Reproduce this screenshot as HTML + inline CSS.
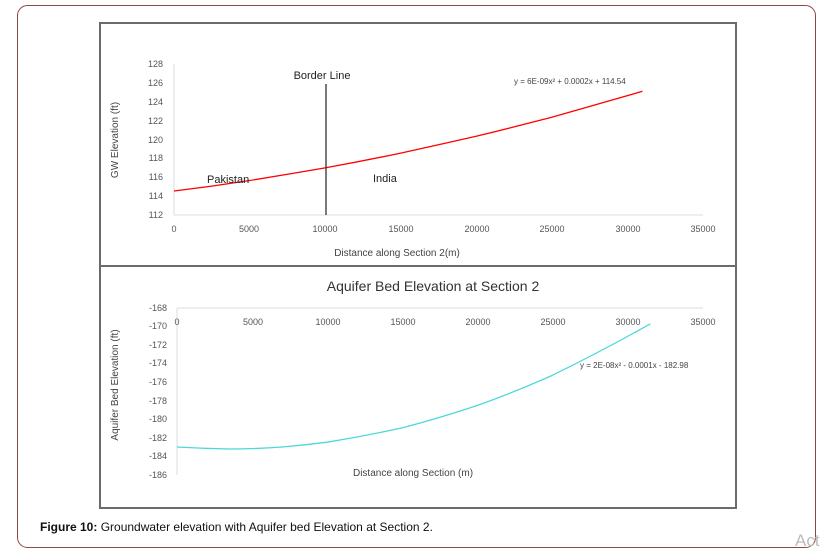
<!DOCTYPE html>
<html><head><meta charset="utf-8"><style>
html,body{margin:0;padding:0;background:#fff;width:825px;height:553px;overflow:hidden}
svg{display:block}
</style></head><body>
<svg width="825" height="553" viewBox="0 0 825 553" xmlns="http://www.w3.org/2000/svg" font-family="Liberation Sans, sans-serif">
<rect x="17.5" y="5.5" width="798" height="542" rx="10" fill="#fff" stroke="#8b4a3f" stroke-width="1"/>
<rect x="100" y="23" width="636" height="485" fill="#fff" stroke="#6b6b6b" stroke-width="2"/>
<line x1="100" y1="266" x2="736" y2="266" stroke="#6b6b6b" stroke-width="2"/>
<!-- top chart -->
<g font-size="9" fill="#555" text-anchor="end">
<text x="163" y="67">128</text><text x="163" y="86">126</text><text x="163" y="105">124</text>
<text x="163" y="124">122</text><text x="163" y="143">120</text><text x="163" y="161">118</text>
<text x="163" y="180">116</text><text x="163" y="199">114</text><text x="163" y="218">112</text>
</g>
<line x1="174" y1="64" x2="174" y2="215" stroke="#ddd"/>
<line x1="174" y1="215" x2="703" y2="215" stroke="#ddd"/>
<g font-size="9" fill="#555" text-anchor="middle">
<text x="174" y="232">0</text><text x="249" y="232">5000</text><text x="325" y="232">10000</text>
<text x="401" y="232">15000</text><text x="477" y="232">20000</text><text x="552" y="232">25000</text>
<text x="628" y="232">30000</text><text x="703" y="232">35000</text>
</g>
<text x="397" y="256" font-size="10" fill="#444" text-anchor="middle">Distance along Section 2(m)</text>
<text transform="translate(118,140) rotate(-90)" font-size="10" fill="#444" text-anchor="middle">GW Elevation (ft)</text>
<path d="M174,191 Q212,186.5 249.6,180.5 Q287,174.5 325.1,167.9 Q363,161 400.7,153.1 Q438,145 476.2,136.3 Q514,127 551.8,117.3 Q597,104.5 642.4,91.3" fill="none" stroke="#f00" stroke-width="1.3"/>
<line x1="326" y1="84" x2="326" y2="215" stroke="#333" stroke-width="1.3"/>
<text x="322" y="79" font-size="11" fill="#222" text-anchor="middle">Border Line</text>
<text x="207" y="183" font-size="11" fill="#222">Pakistan</text>
<text x="373" y="182" font-size="11" fill="#222">India</text>
<text x="514" y="84" font-size="8" fill="#444">y = 6E-09x² + 0.0002x + 114.54</text>
<!-- bottom chart -->
<text x="433" y="291" font-size="14" fill="#333" text-anchor="middle">Aquifer Bed Elevation at  Section 2</text>
<g font-size="9" fill="#555" text-anchor="end">
<text x="167" y="311">-168</text><text x="167" y="329">-170</text><text x="167" y="348">-172</text>
<text x="167" y="366">-174</text><text x="167" y="385">-176</text><text x="167" y="404">-178</text>
<text x="167" y="422">-180</text><text x="167" y="441">-182</text><text x="167" y="459">-184</text>
<text x="167" y="478">-186</text>
</g>
<line x1="177" y1="308" x2="703" y2="308" stroke="#ddd"/>
<line x1="177" y1="308" x2="177" y2="475" stroke="#ddd"/>
<g font-size="9" fill="#555" text-anchor="middle">
<text x="177" y="325">0</text><text x="253" y="325">5000</text><text x="328" y="325">10000</text>
<text x="403" y="325">15000</text><text x="478" y="325">20000</text><text x="553" y="325">25000</text>
<text x="628" y="325">30000</text><text x="703" y="325">35000</text>
</g>
<text x="413" y="476" font-size="10" fill="#444" text-anchor="middle">Distance along Section (m)</text>
<text transform="translate(118,385) rotate(-90)" font-size="10" fill="#444" text-anchor="middle">Aquifer Bed  Elevation (ft)</text>
<path d="M177,447 Q203,448.5 229.6,449 Q256,449 282.2,447 Q305,445 327.3,442.2 Q365,436 402.5,427.8 Q440,418 477.6,405.4 Q515,392 552.8,375.1 Q602,351 650.4,323.8" fill="none" stroke="#4dd8d8" stroke-width="1.3"/>
<text x="580" y="368" font-size="8" fill="#444">y = 2E-08x² - 0.0001x - 182.98</text>
<!-- caption -->
<text x="40" y="531" font-size="12" fill="#111"><tspan font-weight="bold">Figure 10:</tspan> Groundwater elevation with Aquifer bed Elevation at Section 2.</text>
<text x="795" y="546" font-size="17" fill="#bbb">Act</text>
</svg>
</body></html>
